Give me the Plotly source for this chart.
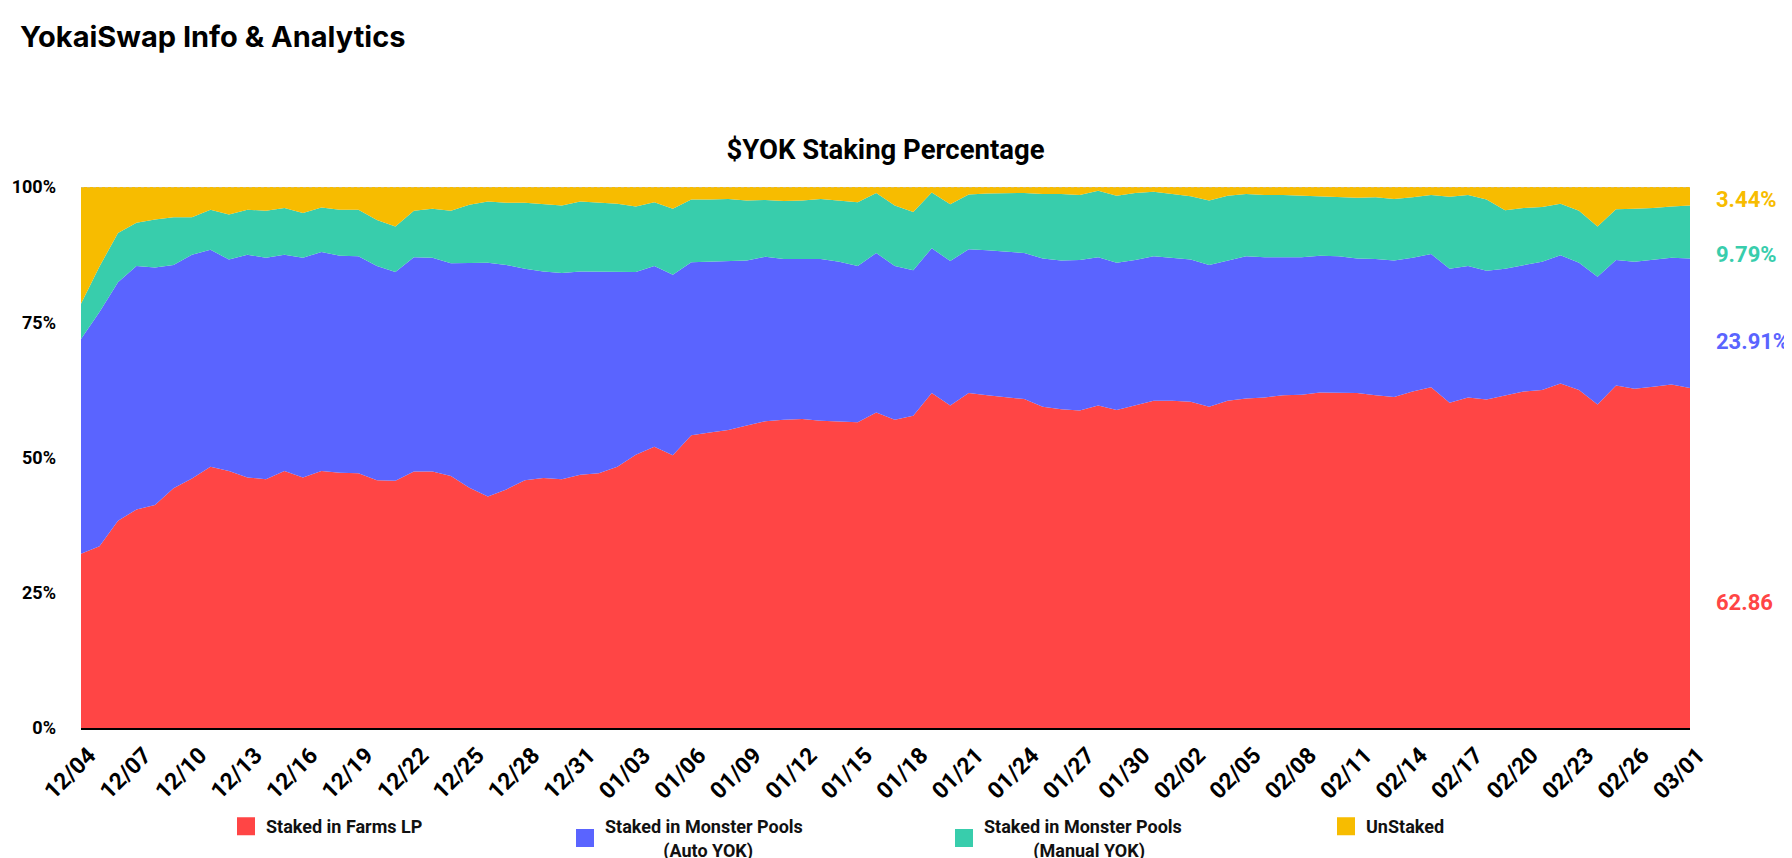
import plotly.graph_objects as go
import pandas as pd

# ---------------- data (percent of $YOK supply) ----------------
dates = pd.date_range("2021-12-04", "2022-03-01", freq="D")

farms_lp = [32.2, 33.6, 38.3, 40.4, 41.2, 44.3, 46.1, 48.3, 47.5, 46.3, 46.0, 47.5, 46.3, 47.5, 47.2,
            47.1, 45.8, 45.7, 47.4, 47.4, 46.6, 44.4, 42.8, 44.1, 45.8, 46.2, 46.0, 46.8, 47.1, 48.3,
            50.5, 52.0, 50.4, 54.1, 54.6, 55.1, 55.9, 56.7, 57.0, 57.1, 56.8, 56.7, 56.5, 58.3, 57.0,
            57.7, 61.9, 59.6, 61.9, 61.5, 61.2, 60.8, 59.4, 58.9, 58.7, 59.6, 58.8, 59.7, 60.5, 60.5,
            60.3, 59.4, 60.5, 60.9, 61.1, 61.5, 61.6, 62.0, 61.9, 61.9, 61.5, 61.2, 62.2, 63.0, 60.1,
            61.1, 60.7, 61.5, 62.2, 62.5, 63.7, 62.5, 59.8, 63.3, 62.7, 63.1, 63.5, 62.86]

auto_yok = [39.7, 43.3, 44.1, 45.0, 43.9, 41.3, 41.4, 40.1, 39.1, 41.2, 40.9, 40.0, 40.6, 40.5, 40.1,
            40.1, 39.6, 38.6, 39.6, 39.5, 39.3, 41.6, 43.2, 41.5, 39.1, 38.2, 38.1, 37.6, 37.3, 36.1,
            33.8, 33.4, 33.4, 32.0, 31.6, 31.3, 30.5, 30.4, 29.7, 29.6, 29.9, 29.5, 28.9, 29.5, 28.4,
            26.9, 26.8, 26.7, 26.6, 26.8, 26.9, 27.0, 27.4, 27.5, 27.8, 27.4, 27.2, 26.8, 26.7, 26.4,
            26.3, 26.2, 25.9, 26.3, 25.9, 25.5, 25.4, 25.3, 25.3, 24.9, 25.2, 25.2, 24.7, 24.6, 24.8,
            24.3, 23.8, 23.4, 23.3, 23.7, 23.7, 23.5, 23.6, 23.2, 23.5, 23.4, 23.4, 23.91]

manual_yok = [6.5, 8.4, 9.1, 8.0, 8.9, 8.8, 6.9, 7.4, 8.3, 8.3, 8.7, 8.6, 8.3, 8.2, 8.5,
              8.6, 8.5, 8.4, 8.6, 9.1, 9.7, 10.7, 11.3, 11.5, 12.2, 12.4, 12.5, 12.9, 12.7, 12.5,
              12.1, 11.8, 12.2, 11.6, 11.5, 11.4, 11.1, 10.5, 10.7, 10.8, 11.1, 11.3, 11.8, 11.1, 11.2,
              10.8, 10.3, 10.5, 10.1, 10.5, 10.8, 11.1, 11.9, 12.3, 12.0, 12.3, 12.4, 12.4, 11.9, 11.8,
              11.7, 11.9, 12.0, 11.5, 11.5, 11.5, 11.4, 11.0, 11.0, 11.2, 11.4, 11.4, 11.2, 10.9, 13.3,
              13.1, 13.2, 10.8, 10.6, 10.1, 9.5, 9.6, 9.3, 9.4, 9.8, 9.6, 9.5, 9.79]

unstaked = [21.6, 14.7, 8.5, 6.6, 6.0, 5.6, 5.6, 4.2, 5.1, 4.2, 4.4, 3.9, 4.8, 3.8, 4.2,
            4.2, 6.1, 7.3, 4.4, 4.0, 4.4, 3.3, 2.7, 2.9, 2.9, 3.2, 3.4, 2.7, 2.9, 3.1,
            3.6, 2.8, 4.0, 2.3, 2.3, 2.2, 2.5, 2.4, 2.6, 2.5, 2.2, 2.5, 2.8, 1.1, 3.4,
            4.6, 1.0, 3.2, 1.4, 1.2, 1.1, 1.1, 1.3, 1.3, 1.5, 0.7, 1.6, 1.1, 0.9, 1.3,
            1.7, 2.5, 1.6, 1.3, 1.5, 1.5, 1.6, 1.7, 1.8, 2.0, 1.9, 2.2, 1.9, 1.5, 1.8,
            1.5, 2.3, 4.3, 3.9, 3.7, 3.1, 4.4, 7.3, 4.1, 4.0, 3.9, 3.6, 3.44]

series_names = ["Staked in Farms LP",
                "Staked in Monster Pools<br>" + "\u00a0" * 13 + "(Auto YOK)",
                "Staked in Monster Pools<br>" + "\u00a0" * 11 + "(Manual YOK)",
                "UnStaked"]
series_values = [farms_lp, auto_yok, manual_yok, unstaked]
colors = ["#FF4545", "#5A64FF", "#38CDAC", "#F7BC00"]
end_labels = [f"{farms_lp[-1]:.2f}", f"{auto_yok[-1]:.2f}%", f"{manual_yok[-1]:.2f}%", f"{unstaked[-1]:.2f}%"]
end_label_px = [594, 333, 246, 192]   # vertical centre of the end labels (px from top)

W, H = 1792, 858
ML, MR, MT, MB = 73, 110, 179, 138
PW = W - ML - MR
PH = H - MT - MB

FONT = "Roboto"

fig = go.Figure()

for name, vals, col in zip(series_names, series_values, colors):
    fig.add_trace(go.Scatter(
        x=dates, y=vals, name=name, stackgroup="one", groupnorm="percent",
        mode="lines", line=dict(width=0, color=col), fillcolor=col,
        showlegend=False, hoverinfo="x+y+name",
    ))

# legend entries (square swatches), one legend per entry for exact placement
legend_names = ["legend", "legend2", "legend3", "legend4"]
legend_marker_x = [239, 578, 957, 1339]
for name, col, lg in zip(series_names, colors, legend_names):
    fig.add_trace(go.Scatter(
        x=[None], y=[None], mode="markers", name=name, legend=lg,
        marker=dict(symbol="square", size=16, color=col, line=dict(width=2, color=col)),
        showlegend=True,
    ))

legend_layouts = {}
for lg, mx in zip(legend_names, legend_marker_x):
    legend_layouts[lg] = dict(
        x=(mx - 21 - ML) / PW, xanchor="left",
        y=(H - MB - 800) / PH, yanchor="top",
        orientation="h", bgcolor="rgba(0,0,0,0)",
        font=dict(family=FONT, size=18, color="#111111", weight="bold"),
        itemclick=False, itemdoubleclick=False,
    )

annotations = [dict(
    text="<b>YokaiSwap Info & Analytics</b>", xref="paper", yref="paper",
    x=(10 - ML) / PW, y=(H - MB - 28) / PH, xanchor="left", yanchor="middle",
    showarrow=False, font=dict(family="Inter", size=29, color="#000000", weight="bold"),
)]
for txt, py, col in zip(end_labels, end_label_px, colors):
    annotations.append(dict(
        text=f"<b>{txt}</b>", xref="paper", yref="paper",
        x=(1706 - ML) / PW, y=(H - MB - py) / PH, xanchor="left", yanchor="middle",
        showarrow=False, font=dict(family=FONT, size=22, color=col),
    ))

fig.update_layout(
    width=W, height=H,
    margin=dict(l=ML, r=MR, t=MT, b=MB, autoexpand=False),
    paper_bgcolor="white", plot_bgcolor="white",
    title=dict(text="<b>$YOK Staking Percentage</b>", x=0.5, xref="paper", xanchor="center",
               y=1 - 141 / H, yref="container", yanchor="middle",
               font=dict(family=FONT, size=27.5, color="#000000")),
    annotations=annotations,
    shapes=[dict(type="line", xref="paper", yref="y", x0=0, x1=1, y0=100, y1=100,
                 line=dict(color="#BBBBBB", width=1, dash="dot"), layer="above")],
    hovermode="x unified",
    **legend_layouts,
)

fig.update_xaxes(
    type="date", range=[dates[0], dates[-1]],
    tick0=dates[0], dtick=3 * 86400000, tickformat="%m/%d",
    tickangle=-45, showgrid=False, zeroline=False,
    showline=True, linecolor="#000000", linewidth=1.5, ticks="",
    ticklabelshift=8, ticklabelstandoff=3,
    tickfont=dict(family=FONT, size=23, color="#000000", weight="bold"),
)
fig.update_yaxes(
    range=[0, 100], tickvals=[0, 25, 50, 75, 100],
    ticktext=["0%", "25%", "50%", "75%", "100%"],
    showgrid=False, zeroline=False, showline=False, ticks="",
    ticklabelstandoff=24,
    tickfont=dict(family=FONT, size=18, color="#000000", weight="bold"),
)

fig.write_html("out.html")
